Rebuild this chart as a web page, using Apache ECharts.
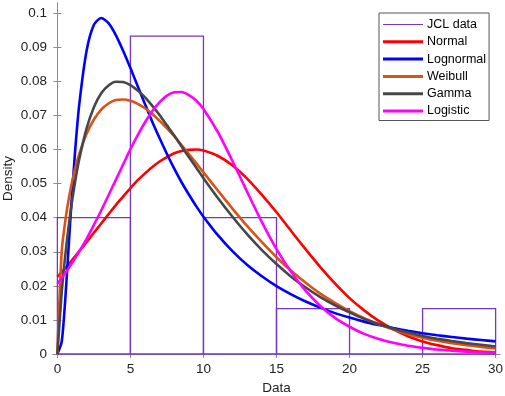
<!DOCTYPE html>
<html>
<head>
<meta charset="utf-8">
<script src="https://cdn.jsdelivr.net/npm/echarts@6/dist/echarts.min.js"></script>
<style>
  html, body { margin: 0; padding: 0; background: #fff; }
  #chart { width: 505px; height: 396px; }
</style>
</head>
<body>
<div id="chart"></div>
<script>
// histogram bins (start, end) and densities
const binStarts = [0, 5, 10, 15, 20, 25];
const binEnds = [5, 10, 15, 20, 25, 30];
const binDensity = [0.04, 0.0933, 0.04, 0.0133, 0, 0.0133];

// x positions where the fitted curves were read
const xs = [0, 0.3, 0.6, 0.9, 1.2, 1.5, 2, 2.5, 3, 3.5, 4, 4.5, 5, 5.5, 6, 6.5, 7, 7.5, 8, 8.5, 9, 9.5,
  10, 11, 12, 13, 14, 15, 16, 17, 18, 19, 20, 21, 22, 23, 24, 25, 26, 27, 28, 29, 30];

const normalY = [0.0226, 0.0240, 0.0255, 0.0270, 0.0286, 0.0302, 0.0328, 0.0356, 0.0383, 0.0410, 0.0437, 0.0462,
  0.0487, 0.0510, 0.0530, 0.0549, 0.0565, 0.0578, 0.0589, 0.0596, 0.0599, 0.0600,
  0.0597, 0.0581, 0.0553, 0.0514, 0.0467, 0.0416, 0.0361, 0.0307, 0.0255, 0.0207,
  0.0164, 0.0128, 0.0097, 0.0072, 0.0052, 0.0037, 0.0026, 0.0017, 0.0012, 0.0007, 0.0005];

const lognormalY = [0, 0.0037, 0.0199, 0.0403, 0.0587, 0.0733, 0.0890, 0.0966, 0.0986, 0.0971, 0.0936, 0.0890,
  0.0839, 0.0786, 0.0733, 0.0681, 0.0633, 0.0587, 0.0544, 0.0504, 0.0468, 0.0434,
  0.0403, 0.0348, 0.0301, 0.0261, 0.0228, 0.0199, 0.0175, 0.0154, 0.0136, 0.0120,
  0.0107, 0.0095, 0.0085, 0.0076, 0.0068, 0.0061, 0.0055, 0.0050, 0.0045, 0.0041, 0.0037];

const weibullY = [0, 0.0302, 0.0408, 0.0483, 0.0541, 0.0587, 0.0646, 0.0688, 0.0717, 0.0735, 0.0745, 0.0747,
  0.0743, 0.0734, 0.0721, 0.0704, 0.0684, 0.0662, 0.0639, 0.0613, 0.0587, 0.0560,
  0.0533, 0.0479, 0.0426, 0.0375, 0.0328, 0.0284, 0.0244, 0.0209, 0.0177, 0.0150,
  0.0126, 0.0105, 0.0087, 0.0072, 0.0059, 0.0048, 0.0039, 0.0032, 0.0026, 0.0021, 0.0016];

const gammaY = [0, 0.0183, 0.0313, 0.0417, 0.0502, 0.0572, 0.0662, 0.0724, 0.0765, 0.0788, 0.0799, 0.0798,
  0.0789, 0.0773, 0.0753, 0.0728, 0.0701, 0.0671, 0.0641, 0.0609, 0.0578, 0.0547,
  0.0516, 0.0457, 0.0402, 0.0351, 0.0305, 0.0264, 0.0227, 0.0195, 0.0167, 0.0143,
  0.0122, 0.0103, 0.0088, 0.0074, 0.0063, 0.0053, 0.0045, 0.0038, 0.0032, 0.0027, 0.0022];

const logisticY = [0.0206, 0.0223, 0.0241, 0.0260, 0.0280, 0.0301, 0.0338, 0.0379, 0.0421, 0.0466, 0.0511, 0.0556,
  0.0601, 0.0642, 0.0680, 0.0713, 0.0739, 0.0758, 0.0768, 0.0769, 0.0760, 0.0744,
  0.0719, 0.0650, 0.0565, 0.0475, 0.0387, 0.0308, 0.0241, 0.0185, 0.0141, 0.0106,
  0.0080, 0.0059, 0.0044, 0.0033, 0.0024, 0.0018, 0.0013, 0.0010, 0.0007, 0.0005, 0.0004];

const xTicks = [0, 5, 10, 15, 20, 25, 30];
const yTicks = [0, 0.01, 0.02, 0.03, 0.04, 0.05, 0.06, 0.07, 0.08, 0.09, 0.1];

const fitNames = ['Normal', 'Lognormal', 'Weibull', 'Gamma', 'Logistic'];
const fitValues = [normalY, lognormalY, weibullY, gammaY, logisticY];
const fitColors = ['#ff0000', '#0000ff', '#d95319', '#474747', '#ff00ff'];
const histColor = '#7236c8';

const font = '"Liberation Sans", Arial, Helvetica, sans-serif';
const axisGrey = '#8c8c8c';

function pairs(ys) {
  return xs.map((x, i) => [x, ys[i]]);
}

// thin bar centred in a 40x3 box, for the histogram legend entry
const thinIcon = 'path://M0,0L0.01,0L0.01,0.01ZM0,1.0H40V2.1H0ZM0,3L0.01,3L0.01,2.99Z';

let chart = echarts.init(document.getElementById('chart'), null, { renderer: 'canvas' });

let option = {
  animation: false,
  grid: { left: 53, right: 5, top: 3, bottom: 42, outerBoundsMode: 'none', containLabel: false },
  legend: {
    orient: 'vertical',
    left: 379,
    top: 13,
    padding: [5, 3, 3, 4],
    itemGap: 4.3,
    itemWidth: 40,
    itemHeight: 3,
    icon: 'rect',
    backgroundColor: '#fff',
    borderColor: '#555',
    borderWidth: 1,
    textStyle: { fontFamily: font, fontSize: 12.5, color: '#000', padding: [0, 0, 0, -1] },
    data: [{ name: 'JCL data', icon: thinIcon, itemStyle: { color: histColor } }]
      .concat(fitNames.map((n) => ({ name: n })))
  },
  xAxis: [
    {
      type: 'value',
      min: -0.3,
      max: 30.3,
      name: 'Data',
      nameLocation: 'middle',
      nameGap: 27,
      nameMoveOverlap: false,
      nameTextStyle: { fontFamily: font, fontSize: 13.5, color: '#222' },
      axisLine: { show: true, lineStyle: { color: axisGrey, width: 1 } },
      axisTick: { show: true, inside: true, length: 4, customValues: xTicks, lineStyle: { color: axisGrey } },
      axisLabel: { customValues: xTicks, margin: 8, fontFamily: font, fontSize: 13.5, color: '#222' },
      splitLine: { show: false }
    },
    {
      type: 'value',
      position: 'top',
      min: -0.3,
      max: 30.3,
      axisLine: { show: true, lineStyle: { color: axisGrey, width: 1 } },
      axisTick: { show: true, inside: true, length: 4, customValues: xTicks, lineStyle: { color: axisGrey } },
      axisLabel: { show: false },
      splitLine: { show: false }
    }
  ],
  yAxis: [
    {
      type: 'value',
      min: 0,
      max: 0.103,
      name: 'Density',
      nameLocation: 'middle',
      nameGap: 38,
      nameMoveOverlap: false,
      nameTextStyle: { fontFamily: font, fontSize: 13.5, color: '#222' },
      axisLine: { show: true, lineStyle: { color: axisGrey, width: 1 } },
      axisTick: { show: true, inside: true, length: 4, customValues: yTicks, lineStyle: { color: axisGrey } },
      axisLabel: { customValues: yTicks, margin: 6, fontFamily: font, fontSize: 13.5, color: '#222' },
      splitLine: { show: false }
    },
    {
      type: 'value',
      position: 'right',
      min: 0,
      max: 0.103,
      axisLine: { show: true, lineStyle: { color: axisGrey, width: 1 } },
      axisTick: { show: true, inside: true, length: 4, customValues: yTicks, lineStyle: { color: axisGrey } },
      axisLabel: { show: false },
      splitLine: { show: false }
    }
  ],
  series: [
    {
      name: 'JCL data',
      type: 'custom',
      itemStyle: { color: histColor },
      data: binStarts.map((s, i) => [s, binEnds[i], binDensity[i]]),
      renderItem: (params, api) => {
        let p0 = api.coord([api.value(0), api.value(2)]);
        let p1 = api.coord([api.value(1), 0]);
        return {
          type: 'rect',
          shape: { x: p0[0], y: p0[1], width: p1[0] - p0[0], height: p1[1] - p0[1] },
          style: { fill: 'none', stroke: histColor, lineWidth: 1.3 }
        };
      },
      z: 2
    }
  ].concat(fitNames.map((name, i) => ({
    name: name,
    type: 'line',
    data: pairs(fitValues[i]),
    showSymbol: false,
    symbol: 'none',
    smooth: 0.25,
    color: fitColors[i],
    lineStyle: { color: fitColors[i], width: 2.6 },
    z: 3 + i
  })))
};

chart.setOption(option);
</script>
</body>
</html>
